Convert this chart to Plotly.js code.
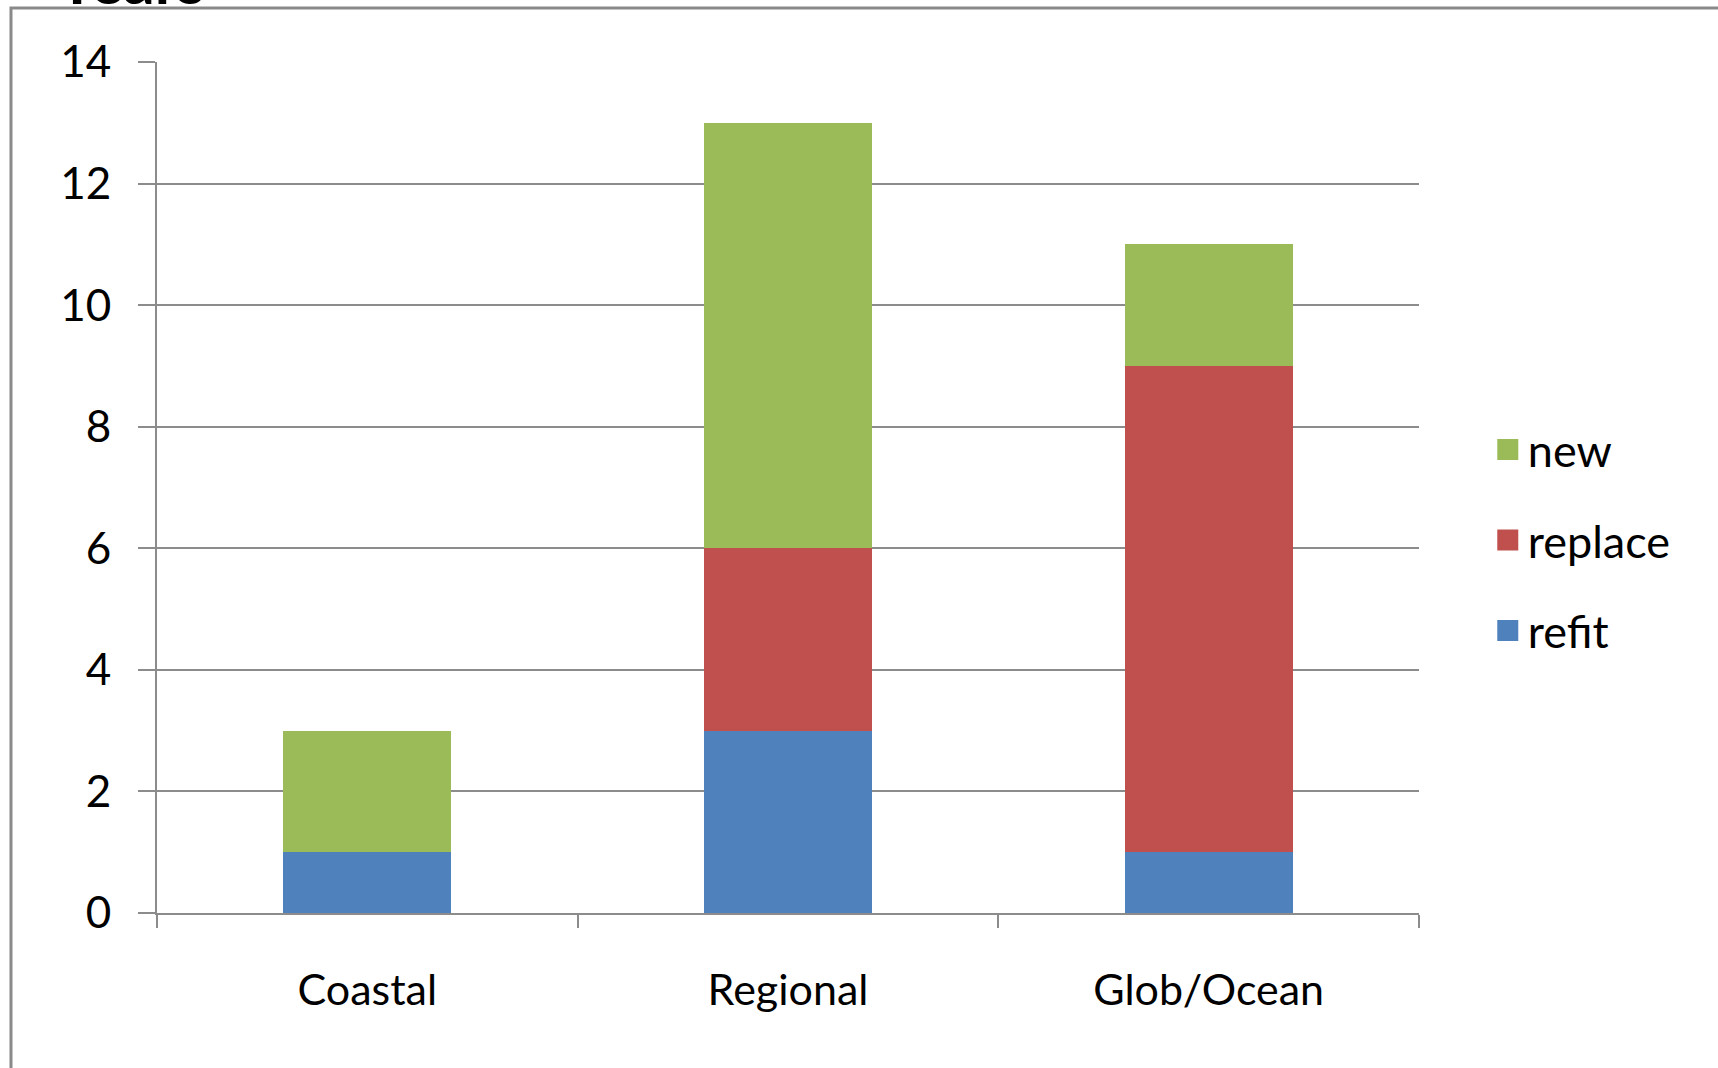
<!DOCTYPE html>
<html>
<head>
<meta charset="utf-8">
<script src="https://cdn.plot.ly/plotly-3.0.1.min.js"></script>
<style>html,body{margin:0;padding:0;background:#fff;}#chart{width:1718px;height:1068px;}</style>
</head>
<body>
<div id="chart"></div>
<script>
const categories = ["Coastal", "Regional", "Glob/Ocean"];
const refit = [1, 3, 1];
const replace = [0, 3, 8];
const newVals = [2, 7, 2];
const seriesNames = ["refit", "replace", "new"];
const colors = ["#4F81BD", "#C0504D", "#9BBB59"];
const yTicks = [0, 2, 4, 6, 8, 10, 12, 14];

const FONT = "Lato, 'Open Sans', sans-serif";
const series = [refit, replace, newVals];

const traces = [];
series.forEach((vals, i) => {
  traces.push({
    type: "bar", x: categories, y: vals, name: seriesNames[i],
    marker: {color: colors[i], line: {width: 0}},
    width: 0.4, showlegend: false, hoverinfo: "x+y+name"
  });
});
series.forEach((vals, i) => {
  traces.push({
    type: "scatter", mode: "markers", x: [null], y: [null], name: seriesNames[i],
    legendgroup: "g" + i, legendrank: 100 - i,
    marker: {symbol: "square", size: 16, color: colors[i], line: {color: colors[i], width: 5}},
    showlegend: true
  });
});

const layout = {
  width: 1718, height: 1068,
  margin: {l: 157, r: 299, t: 62, b: 155},
  paper_bgcolor: "#ffffff", plot_bgcolor: "#ffffff",
  barmode: "stack",
  font: {family: FONT, size: 43, color: "#000"},
  showlegend: true,
  legend: {
    x: 1.0545, y: 0.438, xanchor: "left", yanchor: "middle",
    traceorder: "grouped", tracegroupgap: 29,
    font: {family: FONT, size: 45, color: "#000"},
    itemwidth: 30, bgcolor: "rgba(0,0,0,0)"
  },
  xaxis: {
    type: "category", range: [-0.5, 2.5],
    showline: true, linecolor: "#8c8c8c", linewidth: 2,
    ticks: "outside", tickson: "boundaries", ticklen: 13, tickcolor: "#8c8c8c", tickwidth: 2,
    ticklabelstandoff: 38,
    showgrid: false, zeroline: false,
    tickfont: {family: FONT, size: 43, color: "#000"}
  },
  yaxis: {
    range: [0, 14], tickvals: yTicks, ticktext: yTicks.map(String),
    showline: true, linecolor: "#8c8c8c", linewidth: 2,
    ticks: "outside", ticklen: 17, tickcolor: "#8c8c8c", tickwidth: 2,
    showgrid: true, gridcolor: "#8c8c8c", gridwidth: 2,
    zeroline: false, ticklabelstandoff: 18,
    tickfont: {family: FONT, size: 44, color: "#000"}
  },
  shapes: [{
    type: "rect", xref: "paper", yref: "paper",
    x0: -0.1157, x1: 2, y0: -0.6, y1: 1.0635,
    line: {color: "#8a8a8a", width: 3}, fillcolor: "rgba(0,0,0,0)", layer: "above"
  }],
  annotations: [{
    text: "<b>Years</b>", xref: "paper", yref: "paper",
    x: -0.082, y: 1.051, xanchor: "left", yanchor: "bottom",
    showarrow: false, font: {family: FONT, size: 62, color: "#000"}
  }]
};

Plotly.newPlot("chart", traces, layout, {displayModeBar: false, staticPlot: true});
</script>
</body>
</html>
